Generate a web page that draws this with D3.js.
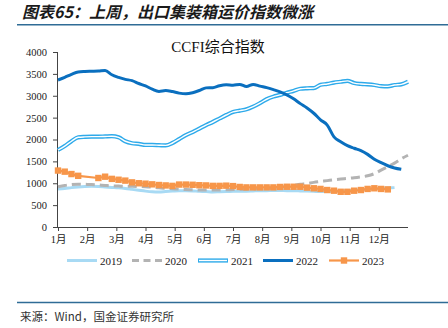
<!DOCTYPE html>
<html><head><meta charset="utf-8">
<script src="https://cdn.jsdelivr.net/npm/d3@7"></script>
<style>
html,body{margin:0;padding:0;background:#fff;}
svg{display:block;}
</style></head>
<body>
<script>
const monthLabels = ["1月","2月","3月","4月","5月","6月","7月","8月","9月","10月","11月","12月"];
const yTicks = [0,500,1000,1500,2000,2500,3000,3500,4000];
const seriesNames = ["2019","2020","2021","2022","2023"];

// weekly values (week index = array position)
const s2019 = [870,880,900,915,925,930,925,915,905,895,880,860,840,820,805,800,810,820,830,830,825,815,810,800,805,810,815,820,820,825,830,830,835,835,830,830,825,820,815,810,810,815,820,830,840,850,860,870,880,890,900];
const s2020 = [920,950,970,980,975,970,960,950,940,935,930,930,925,920,910,895,885,875,865,855,850,845,845,845,845,850,855,860,865,870,875,880,890,905,925,950,975,995,1020,1040,1060,1080,1095,1110,1125,1145,1170,1220,1300,1380,1460,1560,1640];
const s2021 = [1760,1850,1960,2050,2060,2065,2065,2070,2075,2050,1960,1915,1900,1875,1875,1870,1865,1920,2010,2100,2170,2250,2330,2400,2480,2560,2630,2660,2690,2750,2830,2920,2980,3020,3070,3110,3160,3170,3175,3250,3270,3300,3320,3340,3290,3270,3260,3245,3220,3215,3245,3260,3320];
const s2022 = [3360,3420,3490,3545,3555,3560,3565,3580,3480,3420,3375,3345,3280,3225,3150,3100,3120,3095,3060,3045,3070,3120,3180,3185,3230,3250,3240,3260,3210,3260,3220,3185,3140,3090,3020,2930,2820,2720,2600,2450,2330,2060,1950,1860,1800,1745,1660,1550,1470,1400,1350,1320];
const s2023 = [1290,1265,1210,1170,null,null,1120,1150,1100,1080,1060,1020,1000,990,975,960,950,940,970,970,965,955,950,940,940,945,935,915,905,905,905,905,905,915,920,920,920,900,885,870,845,830,805,805,830,845,870,885,870,860];

const W = 448, H = 328;
const svg = d3.select("body").append("svg").attr("width", W).attr("height", H);

const serif = "'Liberation Serif','Times New Roman','Noto Sans CJK SC',serif";
const cjk = "'Noto Sans CJK SC','Noto Sans',sans-serif";

// header
svg.append("text").attr("x", 22).attr("y", 17.5)
  .attr("font-family", cjk).attr("font-size", 16).attr("font-weight", "bold")
  .attr("font-style", "italic").attr("fill", "#1a1a1a")
  .text("图表65：上周，出口集装箱运价指数微涨");
svg.append("line").attr("x1", 17).attr("x2", 448).attr("y1", 24.8).attr("y2", 24.8)
  .attr("stroke", "#2f6c96").attr("stroke-width", 1.6);

// footer
svg.append("line").attr("x1", 17).attr("x2", 448).attr("y1", 302.5).attr("y2", 302.5)
  .attr("stroke", "#2f6c96").attr("stroke-width", 1.4);
svg.append("text").attr("x", 20).attr("y", 321)
  .attr("font-family", "'Noto Sans CJK SC',sans-serif").attr("font-size", 11.5).attr("fill", "#333")
  .text("来源：Wind，国金证券研究所");

// scales
const x = d3.scaleLinear().domain([0, 52]).range([58, 408]);
const y = d3.scaleLinear().domain([0, 4000]).range([227, 52]);

// chart title
svg.append("text").attr("x", 218).attr("y", 52)
  .attr("text-anchor", "middle").attr("font-family", serif).attr("font-size", 15).attr("fill", "#111")
  .text("CCFI综合指数");

// axes
const yAxis = d3.axisLeft(y).tickValues(yTicks).tickSize(5).tickPadding(6).tickFormat(d3.format("d"));
const gy = svg.append("g").attr("transform", `translate(58,0)`).call(yAxis);
gy.selectAll("text").attr("font-family", serif).attr("font-size", 10.5).attr("fill", "#222");
gy.selectAll("line,path").attr("stroke", "#444");
gy.select(".domain").attr("d", `M-0.5,${y(4000)}V${y(0)}`);

const monthPos = monthLabels.map((m, i) => i * 52 / 12);
const xAxis = d3.axisBottom(x).tickValues(monthPos).tickSize(4).tickPadding(5)
  .tickFormat((d, i) => monthLabels[i]);
const gx = svg.append("g").attr("transform", `translate(0,227)`).call(xAxis);
gx.selectAll("text").attr("font-family", serif).attr("font-size", 10.5).attr("fill", "#222");
gx.selectAll("line,path").attr("stroke", "#444");
gx.select(".domain").attr("d", `M58,0.5H408`);

const toPts = arr => arr.map((v, i) => ({w: i, v})).filter(d => d.v !== null);
const lineSmooth = d3.line().x(d => x(d.w)).y(d => y(d.v)).curve(d3.curveMonotoneX);
const lineLin = d3.line().x(d => x(d.w)).y(d => y(d.v));

const plot = svg.append("g");
// 2019
plot.append("path").attr("d", lineSmooth(toPts(s2019))).attr("fill", "none")
  .attr("stroke", "#a8daf4").attr("stroke-width", 3);
// 2020
plot.append("path").attr("d", lineSmooth(toPts(s2020))).attr("fill", "none")
  .attr("stroke", "#b3b3b3").attr("stroke-width", 3).attr("stroke-dasharray", "9,5");
// 2021 double line
plot.append("path").attr("d", lineSmooth(toPts(s2021))).attr("fill", "none")
  .attr("stroke", "#2eaaea").attr("stroke-width", 4.2);
plot.append("path").attr("d", lineSmooth(toPts(s2021))).attr("fill", "none")
  .attr("stroke", "#fff").attr("stroke-width", 1.4);
// 2022
plot.append("path").attr("d", lineSmooth(toPts(s2022))).attr("fill", "none")
  .attr("stroke", "#0a6fbf").attr("stroke-width", 3);
// 2023
const p23 = toPts(s2023);
plot.append("path").attr("d", lineLin(p23)).attr("fill", "none")
  .attr("stroke", "#f7964a").attr("stroke-width", 2.2);
plot.selectAll("rect.m23").data(p23).enter().append("rect")
  .attr("x", d => x(d.w) - 3.2).attr("y", d => y(d.v) - 3.2)
  .attr("width", 6.4).attr("height", 6.4).attr("fill", "#f7964a");

// legend
const leg = svg.append("g");
const legX = [67, 132, 198, 263, 329];
const ly = 260.5;
seriesNames.forEach((name, i) => {
  const x0 = legX[i], x1 = x0 + 30;
  if (i === 0) leg.append("line").attr("x1", x0).attr("x2", x1).attr("y1", ly).attr("y2", ly)
      .attr("stroke", "#a8daf4").attr("stroke-width", 3);
  if (i === 1) leg.append("line").attr("x1", x0).attr("x2", x1).attr("y1", ly).attr("y2", ly)
      .attr("stroke", "#b3b3b3").attr("stroke-width", 3).attr("stroke-dasharray", "7,4.5");
  if (i === 2) {
    leg.append("line").attr("x1", x0).attr("x2", x1).attr("y1", ly).attr("y2", ly)
      .attr("stroke", "#2eaaea").attr("stroke-width", 4.2);
    leg.append("line").attr("x1", x0 + 1).attr("x2", x1 - 1).attr("y1", ly).attr("y2", ly)
      .attr("stroke", "#fff").attr("stroke-width", 1.4);
  }
  if (i === 3) leg.append("line").attr("x1", x0).attr("x2", x1).attr("y1", ly).attr("y2", ly)
      .attr("stroke", "#0a6fbf").attr("stroke-width", 3);
  if (i === 4) {
    leg.append("line").attr("x1", x0).attr("x2", x1).attr("y1", ly).attr("y2", ly)
      .attr("stroke", "#f7964a").attr("stroke-width", 2.2);
    leg.append("rect").attr("x", x0 + 15 - 3.2).attr("y", ly - 3.2).attr("width", 6.4).attr("height", 6.4)
      .attr("fill", "#f7964a");
  }
  leg.append("text").attr("x", x1 + 3).attr("y", ly + 4).attr("font-family", serif)
    .attr("font-size", 11).attr("fill", "#222").text(name);
});
</script>
</body></html>
